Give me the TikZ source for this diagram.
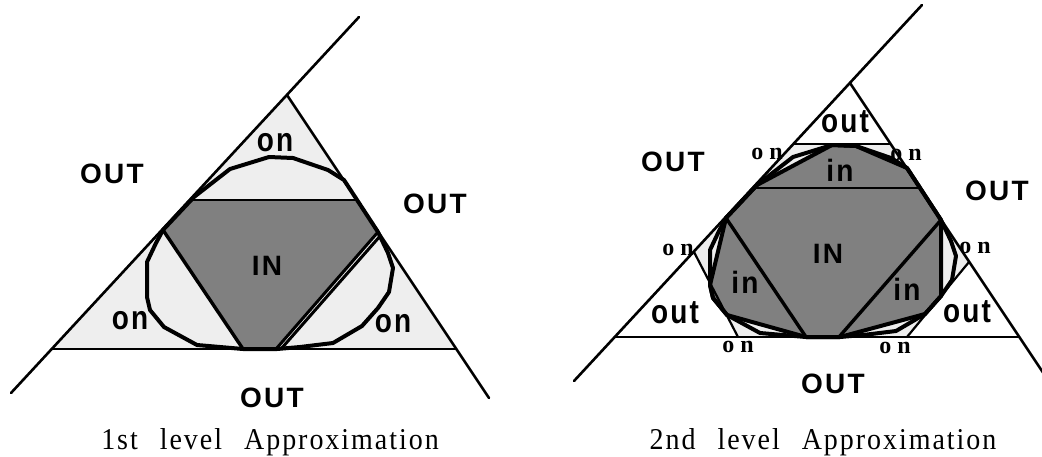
\documentclass[tikz,border=0pt]{standalone}
\usepackage{fontspec}
\newfontfamily\sfb[LetterSpace=8]{Liberation Sans}
\newfontfamily\rmb{Liberation Serif}
\newfontfamily\capf[LetterSpace=7]{Liberation Serif}
\definecolor{lightfill}{HTML}{EEEEEE}
\definecolor{darkfill}{HTML}{808080}
\def\Pone{(230,169) -- (269,157) -- (293,158) -- (328,170) -- (344,180) -- (378,232) -- (388,253) -- (393,268) -- (389,292) -- (378,308) -- (362,326) -- (333,343) -- (300,347) -- (277,349) -- (243,349) -- (197,345) -- (164,327) -- (150,310) -- (147,297) -- (147,262) -- (156,243) -- (163,230) -- (194,197) -- cycle}
\def\Ptwo{(269,157) -- (293,158) -- (344,180) -- (378,232) -- (378,308) -- (362,326) -- (277,349) -- (243,349) -- (164,327) -- (150,310) -- (147,297) -- (163,230) -- (194,197) -- cycle}
\def\Hin{(191,200) -- (357,200) -- (378,232) -- (276,349) -- (243,349) -- (163,230) -- cycle}
\def\Hex{(231,156) -- (328,156) -- (406,274) -- (344,349) -- (175,349) -- (131,264) -- cycle}
\begin{document}
\begin{tikzpicture}[x=1pt,y=-1pt,
  poly/.style={line width=4pt,line join=round},
  side/.style={line width=2.6pt,line cap=round},
  thinl/.style={line width=1.6pt},
  chord/.style={line width=3.4pt},
  cutl/.style={line width=2.2pt},
  bigl/.style={font=\sfb\bfseries\fontsize{28}{28}\selectfont,inner sep=0pt,anchor=base},
  lowl/.style={font=\sfb\bfseries\fontsize{28}{28}\selectfont,inner sep=0pt,anchor=base},
  onl/.style={font=\rmb\bfseries\fontsize{24}{24}\selectfont,inner sep=0pt,anchor=base},
  capl/.style={font=\capf\fontsize{28}{28}\selectfont,inner sep=0pt,anchor=base}]
\useasboundingbox (0,0) rectangle (1042,456);
% ---------- left figure ----------
\fill[lightfill] (287,95) -- (52,349) -- (456,349) -- cycle;
\fill[darkfill] \Hin;
\draw[poly] \Pone;
\draw[thinl] (191,200) -- (357,200);
\draw[chord] (163,230) -- (243,349);
\draw[line width=3pt] (378,232) -- (276,349);
\draw[line width=3pt] (381,235) -- (281,349);
\draw[side] (359,17) -- (11,393);
\draw[side] (287,95) -- (489,398);
\draw[side] (52,349) -- (456,349);
% ---------- right figure ----------
\begin{scope}[shift={(563,-12)}]
\fill[lightfill] \Hex;
\fill[lightfill] \Pone;
\fill[darkfill] \Ptwo;
\draw[poly] \Pone;
\draw[poly] \Ptwo;
\draw[thinl] (191,200) -- (357,200);
\draw[chord] (163,230) -- (243,349);
\draw[chord] (378,232) -- (276,349);
\draw[cutl] (231,156) -- (328,156);
\draw[cutl] (406,274) -- (344,349);
\draw[cutl] (175,349) -- (131,264);
\draw[side] (359,17) -- (11,393);
\draw[side] (287,95) -- (489,398);
\draw[side] (52,349) -- (456,349);
\end{scope}
% ---------- left labels ----------
\node[bigl] (lout1) at (112,183) {OUT};
\node[bigl] (lout2) at (435,213) {OUT};
\node[bigl] (lout3) at (272,407) {OUT};
\node[bigl] (lin) at (267,275) {IN};
\node[lowl] (lon1) at (275,151) {\scalebox{1}[1.2]{on}};
\node[lowl] (lon2) at (130,329) {\scalebox{1}[1.2]{on}};
\node[lowl] (lon3) at (393,332) {\scalebox{1}[1.2]{on}};
\node[capl] (lcap) at (270,449) {\scalebox{1}[1.08]{1st\hspace{22pt}level\hspace{22pt}Approximation}};
% ---------- right labels ----------
\node[bigl] (rout1) at (673,171) {OUT};
\node[bigl] (rout2) at (997,200) {OUT};
\node[bigl] (rout3) at (833,393) {OUT};
\node[bigl] (rin) at (828,263) {IN};
\node[lowl] (rin1) at (840,181) {\scalebox{1}[1.1]{in}};
\node[lowl] (rin2) at (745,293) {\scalebox{1}[1.1]{in}};
\node[lowl] (rin3) at (907,300) {\scalebox{1}[1.1]{in}};
\node[lowl] (rsout1) at (845,132) {\scalebox{1}[1.2]{out}};
\node[lowl] (rsout2) at (675,323) {\scalebox{1}[1.2]{out}};
\node[lowl] (rsout3) at (967,322) {\scalebox{1}[1.2]{out}};
\node[onl] (ron1) at (767,159) {o n};
\node[onl] (ron2) at (906,160) {o n};
\node[onl] (ron3) at (678,255) {o n};
\node[onl] (ron4) at (975,253) {o n};
\node[onl] (ron5) at (738,352) {o n};
\node[onl] (ron6) at (895,353) {o n};
\node[capl] (rcap) at (823,449) {\scalebox{1}[1.08]{2nd\hspace{22pt}level\hspace{22pt}Approximation}};
\end{tikzpicture}
\end{document}
